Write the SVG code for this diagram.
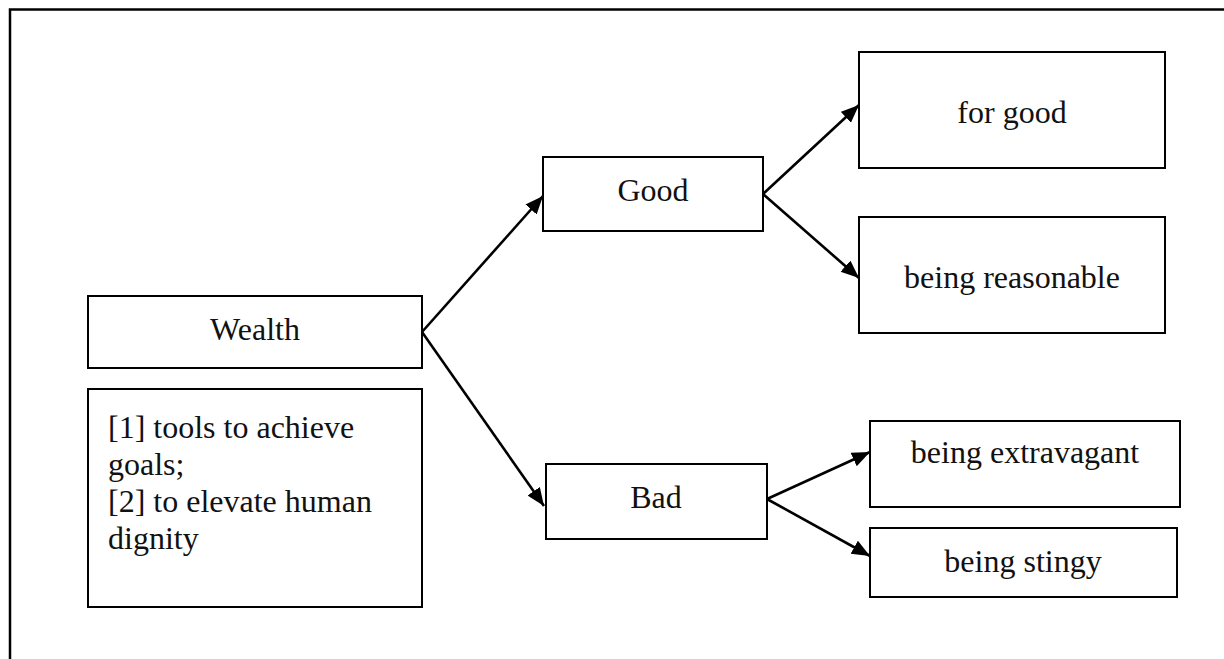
<svg xmlns="http://www.w3.org/2000/svg" width="1224" height="659" viewBox="0 0 1224 659">
<style>
.box{fill:#fff;stroke:#000;stroke-width:2}
.t{font-family:"Liberation Serif","Times New Roman",serif;font-size:32px;fill:#111}
.c{text-anchor:middle}
.arr{stroke:#000;stroke-width:2.6;fill:none;marker-end:url(#ah)}
</style>
<defs>
<marker id="ah" markerUnits="userSpaceOnUse" markerWidth="20" markerHeight="16" refX="18" refY="7.5" orient="auto">
<path d="M0,0 L18,7.5 L0,15 z" fill="#000"/>
</marker>
</defs>
<rect width="1224" height="659" fill="#fff"/>
<path d="M10,659 V9.5 H1224" fill="none" stroke="#000" stroke-width="2.5"/>
<g id="connectors">
<line class="arr" x1="422" y1="332" x2="543" y2="196"/>
<line class="arr" x1="422" y1="332" x2="544" y2="506"/>
<line class="arr" x1="763" y1="194" x2="859" y2="105"/>
<line class="arr" x1="763" y1="194" x2="859" y2="278"/>
<line class="arr" x1="767" y1="499" x2="870" y2="452"/>
<line class="arr" x1="767" y1="499" x2="870" y2="556"/>
</g>
<g id="wealth">
<rect class="box" x="88" y="296" width="334" height="72"/>
<text class="t c" x="255" y="340">Wealth</text>
</g>
<g id="notes">
<rect class="box" x="88" y="389" width="334" height="218"/>
<text class="t" x="108" y="438">[1] tools to achieve</text>
<text class="t" x="108" y="475">goals;</text>
<text class="t" x="108" y="512">[2] to elevate human</text>
<text class="t" x="108" y="549">dignity</text>
</g>
<g id="good">
<rect class="box" x="543" y="157" width="220" height="74"/>
<text class="t c" x="653" y="201">Good</text>
</g>
<g id="bad">
<rect class="box" x="546" y="464" width="221" height="75"/>
<text class="t c" x="656" y="508">Bad</text>
</g>
<g id="forgood">
<rect class="box" x="859" y="52" width="306" height="116"/>
<text class="t c" x="1012" y="123">for good</text>
</g>
<g id="reasonable">
<rect class="box" x="859" y="217" width="306" height="116"/>
<text class="t c" x="1012" y="288">being reasonable</text>
</g>
<g id="extravagant">
<rect class="box" x="870" y="421" width="310" height="86"/>
<text class="t c" x="1025" y="463">being extravagant</text>
</g>
<g id="stingy">
<rect class="box" x="870" y="528" width="307" height="69"/>
<text class="t c" x="1023" y="572">being stingy</text>
</g>
</svg>
